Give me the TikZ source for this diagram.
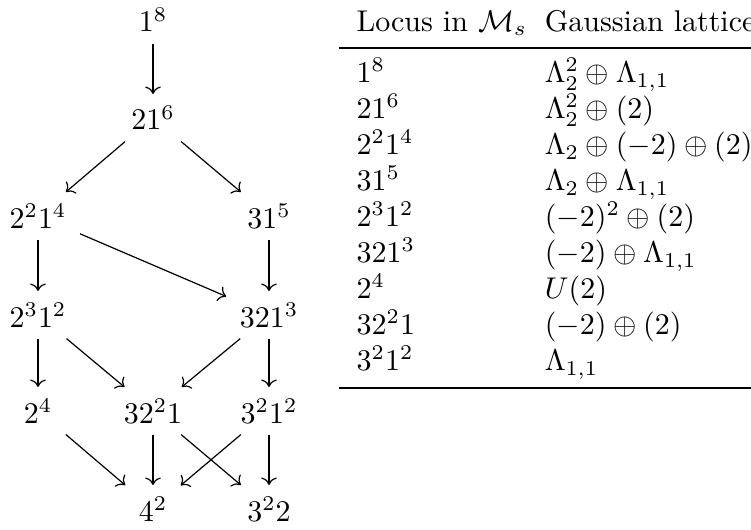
\documentclass[tikz,border=0pt]{standalone}
\usepackage{amsmath,amssymb}
\usepackage{booktabs}
\usetikzlibrary{arrows.meta}
\begin{document}
\begin{tikzpicture}[x=0.33333pt,y=-0.33333pt,
  cell/.style={anchor=base,inner xsep=1ex,inner ysep=0.85ex},
  arr/.style={-{Computer Modern Rightarrow}, line width=0.4pt}]
\useasboundingbox (0,0) rectangle (751,529);
% Hasse diagram
\node[cell] (a) at (153,32) {$1^8$};
\node[cell] (b) at (153,130) {$21^6$};
\node[cell] (c) at (38,228) {$2^21^4$};
\node[cell] (d) at (269,228) {$31^5$};
\node[cell] (e) at (38,327) {$2^31^2$};
\node[cell] (f) at (269,327) {$321^3$};
\node[cell] (g) at (38,423) {$2^4$};
\node[cell] (h) at (153,423) {$32^21$};
\node[cell] (i) at (269,423) {$3^21^2$};
\node[cell] (j) at (153,521) {$4^2$};
\node[cell] (k) at (269,521) {$3^22$};
\draw[arr] (a) -- (b);
\draw[arr] (b) -- (c);
\draw[arr] (b) -- (d);
\draw[arr] (c) -- (e);
\draw[arr] (c) -- (f);
\draw[arr] (d) -- (f);
\draw[arr] (e) -- (g);
\draw[arr] (e) -- (h);
\draw[arr] (f) -- (h);
\draw[arr] (f) -- (i);
\draw[arr] (g) -- (j);
\draw[arr] (h) -- (j);
\draw[arr] (h) -- (k);
\draw[arr] (i) -- (j);
\draw[arr] (i) -- (k);
% table
\node[anchor=base west, inner sep=0] (tab) at (338,31.5) {%
\begin{tabular}[t]{l@{\hspace{6pt}}l}
Locus in $\mathcal{M}_s$ & Gaussian lattice\\
\midrule
$1^8$ & $\Lambda_2^2\oplus\Lambda_{1,1}$\\
$21^6$ & $\Lambda_2^2\oplus(2)$\\
$2^21^4$ & $\Lambda_2\oplus(-2)\oplus(2)$\\
$31^5$ & $\Lambda_2\oplus\Lambda_{1,1}$\\
$2^31^2$ & $(-2)^2\oplus(2)$\\
$321^3$ & $(-2)\oplus\Lambda_{1,1}$\\
$2^4$ & $U(2)$\\
$32^21$ & $(-2)\oplus(2)$\\
$3^21^2$ & $\Lambda_{1,1}$\\
\bottomrule
\end{tabular}};
\end{tikzpicture}
\end{document}
